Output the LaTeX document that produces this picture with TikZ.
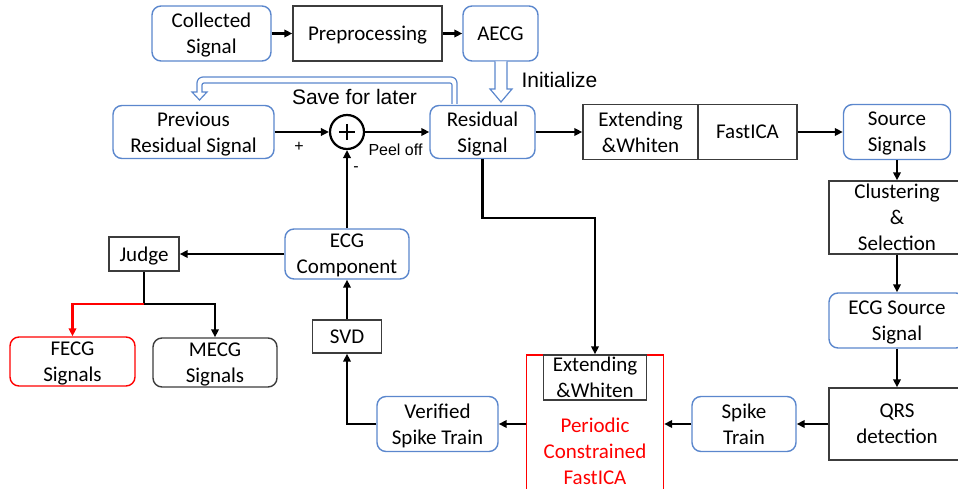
\documentclass[tikz,border=0pt]{standalone}
\usepackage{fontspec}
\setmainfont{Carlito}
\newfontfamily\arialf{Liberation Sans}
\usetikzlibrary{arrows.meta,calc}
\definecolor{bbl}{RGB}{91,135,205}
\definecolor{dgr}{RGB}{60,60,60}
\definecolor{rd}{RGB}{255,0,0}
\begin{document}
\begin{tikzpicture}[x=1pt,y=-1pt,
  every node/.style={font=\fontsize{21}{26}\selectfont, inner sep=0pt, align=center},
  bbox/.style={draw=bbl, line width=1.4pt, rounded corners=9pt, fill=white, text depth=-2pt},
  kbox/.style={draw=dgr, line width=1.4pt, fill=white, text depth=-2pt},
  conn/.style={line width=2.4pt, -{Triangle[length=8pt,width=7.5pt]}},
  hollow/.style={draw=bbl, line width=1.2pt, fill=white, line join=miter},
  lab/.style={font=\arialf\fontsize{21}{25}\selectfont},
  slab/.style={font=\arialf\fontsize{16}{19}\selectfont}]
\useasboundingbox (0,0) rectangle (958,489);
\clip (0,0) rectangle (958,489);

% top row
\node[bbox, minimum width=119pt, minimum height=55pt] (coll) at (211.5,33.5) {Collected\\Signal};
\node[kbox, minimum width=149pt, minimum height=55pt] (prep) at (367.5,33.5) {Preprocessing};
\node[bbox, minimum width=75pt, minimum height=55pt] (aecg) at (500.5,33.5) {AECG};

% second row
\node[bbox, minimum width=161pt, minimum height=53pt] (prev) at (193.5,132) {Previous\\Residual Signal};
\node[circle, draw, line width=2.2pt, minimum size=34pt, fill=white] (sum) at (347,132) {};
\draw[line width=2.4pt] ($(sum)+(-8,0)$) -- ($(sum)+(8,0)$) ($(sum)+(0,-8)$) -- ($(sum)+(0,8)$);
\node[bbox, minimum width=105pt, minimum height=53pt] (resid) at (482.5,132) {Residual\\Signal};
\node[kbox, minimum width=115pt, minimum height=55pt] (extw) at (640.5,132) {Extending\\\&Whiten};
\node[kbox, minimum width=99pt, minimum height=55pt] (fica) at (747.5,132) {FastICA};
\node[bbox, minimum width=107pt, minimum height=55pt] (src) at (897,132) {Source\\Signals};

% right column
\node[kbox, minimum width=136pt, minimum height=73pt] (clus) at (897,217.5) {Clustering\\\&\\Selection};
\node[bbox, minimum width=136pt, minimum height=55pt] (ecgsrc) at (897,320.5) {ECG Source\\Signal};
\node[kbox, minimum width=136pt, minimum height=72pt] (qrs) at (897,424) {QRS\\detection};

% bottom row
\node[bbox, minimum width=104pt, minimum height=55pt] (spike) at (744,424) {Spike\\Train};
\node[draw=rd, line width=1.4pt, minimum width=137pt, minimum height=192pt, text=rd, fill=white, text depth=-2pt] (pcf) at (595,451) {Periodic\\Constrained\\FastICA};
\node[kbox, minimum width=103pt, minimum height=45pt] (extw2) at (595,377.5) {Extending\\\&Whiten};
\node[bbox, minimum width=121pt, minimum height=55pt] (ver) at (437.5,424) {Verified\\Spike Train};
\node[kbox, minimum width=69pt, minimum height=33pt] (svd) at (347,336.5) {SVD};
\node[bbox, minimum width=124pt, minimum height=50pt] (ecgc) at (347,254) {ECG\\Component};
\node[kbox, minimum width=70pt, minimum height=34pt] (judge) at (144,254) {Judge};
\node[draw=rd, line width=1.4pt, rounded corners=9pt, minimum width=125pt, minimum height=49pt, text depth=-2pt] (fecg) at (72.5,361.5) {FECG\\Signals};
\node[draw=dgr, line width=1.4pt, rounded corners=9pt, minimum width=124pt, minimum height=49pt, text depth=-2pt] (mecg) at (215,362.5) {MECG\\Signals};

% connectors
\draw[conn] (coll) -- (prep);
\draw[conn] (prep) -- (aecg);
\draw[conn] (prev) -- (sum);
\draw[conn] (sum) -- (resid);
\draw[conn] (resid) -- (extw);
\draw[conn] (fica) -- (src);
\draw[conn] (src) -- (clus);
\draw[conn] (clus) -- (ecgsrc);
\draw[conn] (ecgsrc) -- (qrs);
\draw[conn] (qrs) -- (spike);
\draw[conn] (spike.west) -- (spike.west -| pcf.east);
\draw[conn] (ver.east -| pcf.west) -- (ver.east);
\draw[conn] (ver.west) -| (svd.south);
\draw[conn] (svd) -- (ecgc);
\draw[conn] (ecgc) -- (sum);
\draw[conn] (ecgc) -- (judge);
\coordinate (rbend) at (595,218);
\draw[conn] (resid.south) |- (rbend) -- (extw2.north);
\coordinate (jsplit) at (144,304);
\draw[line width=2.4pt] (judge.south) -- (jsplit);
\draw[conn] (jsplit) -| (mecg.north);
\draw[conn, rd] (jsplit) -| (fecg.north);

% hollow arrows
\draw[hollow] (495,61.5) -- (495,89) -- (490,89) -- (501,102) -- (512,89) -- (507,89) -- (507,61.5);
\draw[hollow] (457,104) [rounded corners=6pt] -- (457,77) -- (197,77) [sharp corners] -- (197,92) -- (192,92) -- (199.5,100) -- (207,92) -- (202,92) [rounded corners=2pt] -- (202,83) -- (452,83) [sharp corners] -- (452,104);

% labels
\node[lab] (init) at (559.5,80) {Initialize};
\node[lab] (save) at (354.5,97) {Save for later};
\node[slab] (plus) at (299,147) {+};
\node[slab] (peel) at (395.5,150) {Peel off};
\node[slab] (minus) at (356,169) {-};
\end{tikzpicture}
\end{document}
